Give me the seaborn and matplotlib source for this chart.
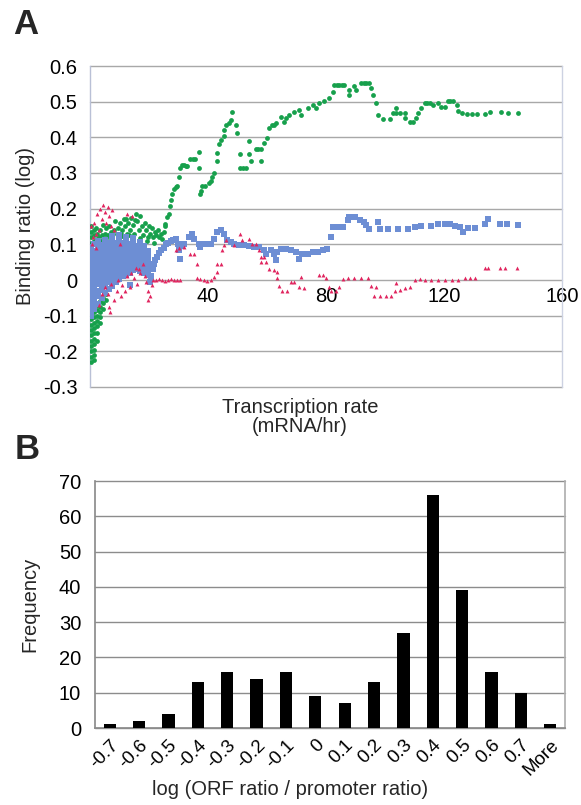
import matplotlib
matplotlib.use("Agg")
import matplotlib.pyplot as plt
import seaborn as sns
import pandas as pd

sns.set_theme(style="white")
plt.rcParams['font.family'] = ['Liberation Sans', 'DejaVu Sans']

# ---------------- Panel B data ----------------
bin_labels = ["-0.7", "-0.6", "-0.5", "-0.4", "-0.3", "-0.2", "-0.1", "0",
              "0.1", "0.2", "0.3", "0.4", "0.5", "0.6", "0.7", "More"]
frequency = [1, 2, 4, 13, 16, 14, 16, 9, 7, 13, 27, 66, 39, 16, 10, 1]
b_yticks = [0, 10, 20, 30, 40, 50, 60, 70]

# ---------------- Panel A ticks ----------------
a_yticks = [-0.3, -0.2, -0.1, 0.0, 0.1, 0.2, 0.3, 0.4, 0.5, 0.6]
a_ytick_labels = ["-0.3", "-0.2", "-0.1", "0", "0.1", "0.2", "0.3", "0.4", "0.5", "0.6"]
a_xticks = [40, 80, 120, 160]
a_xtick_labels = ["40", "80", "120", "160"]

# ---------------- Panel A series (transcription rate, binding ratio) ----------------
green_points = [
    (0.3, 0.15), (0.3, 0.135), (0.3, 0.12), (0.3, 0.105),
    (0.3, -0.11), (0.3, -0.125), (0.3, -0.14), (0.3, -0.155), (0.3, -0.17), (0.3, -0.185),
    (0.3, -0.2), (0.3, -0.215), (0.3, -0.23),
    (1.3, 0.14), (1.3, 0.125), (1.3, 0.11),
    (1.3, -0.09), (1.3, -0.105), (1.3, -0.12), (1.3, -0.135), (1.3, -0.15), (1.3, -0.165),
    (1.3, -0.18), (1.3, -0.195), (1.3, -0.21), (1.3, -0.225),
    (2.3, 0.13), (2.3, 0.115),
    (2.3, -0.07), (2.3, -0.085), (2.3, -0.1), (2.3, -0.115), (2.3, -0.13), (2.3, -0.15), (2.3, -0.17),
    (3.3, -0.06), (3.3, -0.075), (3.3, -0.09), (3.3, -0.105), (3.3, -0.12),
    (4.3, -0.05), (4.3, -0.065), (4.3, -0.08),
    (5.3, -0.04), (5.3, -0.055),
    (2.0, 0.145), (3.0, 0.12), (3.5, 0.14), (4.0, 0.125), (4.5, 0.155), (5.0, 0.13), (5.5, 0.145),
    (6.0, 0.125), (6.5, 0.15), (7.0, 0.135), (7.5, 0.125), (8.0, 0.14), (8.5, 0.165), (9.0, 0.13),
    (9.5, 0.145), (10.0, 0.16), (10.5, 0.13), (11.0, 0.14), (11.5, 0.17), (12.0, 0.15), (12.5, 0.13),
    (13.0, 0.16), (13.5, 0.14), (14.0, 0.175), (14.5, 0.155), (15.0, 0.13), (15.5, 0.185),
    (16.0, 0.165), (16.5, 0.14), (17.0, 0.18), (17.5, 0.15), (18.0, 0.125), (18.5, 0.16),
    (19.0, 0.14), (19.5, 0.12), (20.0, 0.15), (20.5, 0.13), (21.0, 0.145), (21.5, 0.12),
    (22.0, 0.135), (22.5, 0.125), (23.0, 0.14), (23.5, 0.12), (24.0, 0.13), (24.5, 0.115),
    (25.0, 0.135), (25.5, 0.15),
    (6.8, 0.118), (10.8, 0.122), (13.2, 0.125), (16.8, 0.118), (19.2, 0.108), (21.8, 0.105),
    (3.8, 0.108), (12.2, 0.172), (15.2, 0.168),
    (25.5, 0.158), (26.0, 0.176), (26.7, 0.185), (27.2, 0.208), (27.5, 0.225), (27.8, 0.24),
    (28.4, 0.255), (29.0, 0.262), (29.5, 0.264), (30.0, 0.29), (30.6, 0.315), (31.2, 0.322),
    (31.8, 0.322), (32.4, 0.32), (32.9, 0.319), (34.0, 0.34), (34.8, 0.34), (35.7, 0.34),
    (36.9, 0.359), (36.9, 0.313),
    (37.4, 0.24), (37.7, 0.25), (38.0, 0.264), (39.1, 0.264), (40.3, 0.273), (40.9, 0.278),
    (41.5, 0.29), (42.0, 0.30), (43.1, 0.333), (43.1, 0.356), (43.7, 0.38), (44.3, 0.393),
    (45.4, 0.403), (45.4, 0.42), (46.0, 0.435), (47.0, 0.44), (47.7, 0.449), (48.2, 0.472),
    (49.4, 0.435), (49.9, 0.412),
    (51.0, 0.352), (51.0, 0.315), (52.0, 0.315), (52.8, 0.315), (53.9, 0.352), (53.9, 0.389),
    (54.5, 0.333), (56.2, 0.366), (57.0, 0.366), (57.9, 0.366), (57.9, 0.335), (59.0, 0.384),
    (60.1, 0.398), (60.7, 0.426), (61.8, 0.435), (62.4, 0.435), (63.0, 0.44), (64.7, 0.458),
    (65.8, 0.444), (66.5, 0.455), (67.5, 0.463), (69.2, 0.47), (70.9, 0.477),
    (71.5, 0.463), (73.8, 0.481), (75.5, 0.492), (76.6, 0.481), (77.7, 0.495), (79.4, 0.502),
    (81.1, 0.511), (82.3, 0.528), (82.8, 0.546), (83.6, 0.546), (84.5, 0.548), (85.3, 0.548),
    (86.2, 0.546), (87.9, 0.532), (87.9, 0.518), (89.6, 0.544), (90.2, 0.532), (91.9, 0.551),
    (92.8, 0.551), (93.6, 0.551), (94.7, 0.551), (95.3, 0.537), (95.9, 0.518), (97.0, 0.495),
    (97.6, 0.463), (99.3, 0.452), (101.6, 0.452), (102.7, 0.468), (103.8, 0.483),
    (103.8, 0.468), (105.0, 0.468), (106.7, 0.468), (106.7, 0.454), (108.4, 0.443),
    (109.5, 0.443), (110.6, 0.454), (111.2, 0.468), (112.3, 0.481), (113.5, 0.495),
    (114.3, 0.495), (115.2, 0.495), (116.3, 0.491), (118.0, 0.495), (119.1, 0.486),
    (120.3, 0.486), (121.4, 0.502), (122.2, 0.502), (123.1, 0.502), (124.3, 0.491),
    (124.9, 0.474), (126.0, 0.468), (127.7, 0.466), (129.4, 0.466), (131.1, 0.466),
    (133.9, 0.465), (135.6, 0.472), (139.3, 0.472), (141.6, 0.469), (145.0, 0.469),
]

blue_points = [
    (0.3, -0.10), (0.3, -0.085), (0.3, -0.07), (0.3, -0.055), (0.3, -0.04), (0.3, -0.025),
    (0.3, -0.01), (0.3, 0.005), (0.3, 0.02), (0.3, 0.035), (0.3, 0.05), (0.3, 0.065),
    (0.3, 0.08), (0.3, 0.092),
    (1.5, -0.082), (1.5, -0.064), (1.5, -0.048), (1.5, -0.032), (1.5, -0.016), (1.5, 0.0),
    (1.5, 0.016), (1.5, 0.032), (1.5, 0.048), (1.5, 0.064), (1.5, 0.08), (1.5, 0.1),
    (2.7, -0.066), (2.7, -0.045), (2.7, -0.03), (2.7, -0.012), (2.7, 0.004), (2.7, 0.02),
    (2.7, 0.036), (2.7, 0.05), (2.7, 0.066), (2.7, 0.08), (2.7, 0.095), (2.7, 0.108),
    (3.9, -0.05), (3.9, -0.028), (3.9, -0.012), (3.9, 0.006), (3.9, 0.022), (3.9, 0.038),
    (3.9, 0.054), (3.9, 0.07), (3.9, 0.086), (3.9, 0.098),
    (5.1, -0.036), (5.1, -0.014), (5.1, 0.002), (5.1, 0.018), (5.1, 0.034), (5.1, 0.05),
    (5.1, 0.066), (5.1, 0.082), (5.1, 0.098), (5.1, 0.112),
    (6.3, -0.024), (6.3, -0.006), (6.3, 0.012), (6.3, 0.028), (6.3, 0.044), (6.3, 0.06),
    (6.3, 0.076), (6.3, 0.092), (6.3, 0.104),
    (7.5, -0.016), (7.5, 0.0), (7.5, 0.016), (7.5, 0.032), (7.5, 0.048), (7.5, 0.064),
    (7.5, 0.08), (7.5, 0.096), (7.5, 0.112), (7.5, 0.122),
    (8.7, -0.006), (8.7, 0.01), (8.7, 0.026), (8.7, 0.042), (8.7, 0.058), (8.7, 0.074),
    (8.7, 0.09), (8.7, 0.104),
    (9.9, 0.002), (9.9, 0.018), (9.9, 0.034), (9.9, 0.05), (9.9, 0.066), (9.9, 0.082),
    (9.9, 0.098), (9.9, 0.114), (9.9, 0.126),
    (11.1, 0.01), (11.1, 0.026), (11.1, 0.042), (11.1, 0.058), (11.1, 0.074), (11.1, 0.09),
    (11.1, 0.104),
    (12.3, 0.014), (12.3, 0.03), (12.3, 0.046), (12.3, 0.062), (12.3, 0.078), (12.3, 0.094),
    (12.3, 0.11), (12.3, 0.12),
    (13.5, 0.02), (13.5, 0.036), (13.5, 0.052), (13.5, 0.068), (13.5, 0.084), (13.5, 0.1),
    (14.7, 0.028), (14.7, 0.044), (14.7, 0.06), (14.7, 0.076), (14.7, 0.092), (14.7, 0.108),
    (14.7, 0.118),
    (15.9, 0.032), (15.9, 0.048), (15.9, 0.064), (15.9, 0.08), (15.9, 0.096),
    (17.1, 0.026), (17.1, 0.042), (17.1, 0.058), (17.1, 0.074), (17.1, 0.09), (17.1, 0.106),
    (18.3, 0.02), (18.3, 0.036), (18.3, 0.052), (18.3, 0.068), (18.3, 0.084), (18.3, 0.094),
    (19.5, 0.014), (19.5, 0.03), (19.5, 0.048), (19.5, 0.064), (19.5, 0.08),
    (13.6, -0.014), (20.4, -0.005), (20.8, 0.01), (21.2, 0.03), (21.6, 0.045), (22.2, 0.055),
    (22.8, 0.065), (23.5, 0.075), (24.2, 0.083), (25.0, 0.09), (25.8, 0.1), (26.6, 0.105),
    (27.4, 0.11), (28.2, 0.112), (29.0, 0.116), (29.8, 0.1), (30.3, 0.083), (30.6, 0.06),
    (31.2, 0.095), (31.8, 0.102), (33.5, 0.12), (34.6, 0.13), (35.2, 0.116), (36.9, 0.102),
    (37.4, 0.093), (39.1, 0.102), (40.9, 0.102), (42.0, 0.116), (43.1, 0.134), (44.3, 0.139),
    (45.4, 0.13), (46.5, 0.111), (47.7, 0.106), (48.8, 0.102), (50.5, 0.097), (52.2, 0.097),
    (53.9, 0.094), (55.6, 0.093), (57.3, 0.093), (59.0, 0.083), (59.6, 0.074), (61.3, 0.083),
    (62.4, 0.074), (63.0, 0.057), (63.5, 0.079), (64.7, 0.088), (66.4, 0.088), (68.1, 0.083),
    (69.8, 0.079), (70.9, 0.06), (72.0, 0.074), (73.8, 0.074), (75.5, 0.079), (77.2, 0.079),
    (78.9, 0.083), (80.5, 0.088), (81.7, 0.12), (82.3, 0.148), (83.9, 0.148), (85.7, 0.148),
    (87.4, 0.167), (87.9, 0.176), (89.9, 0.178), (91.4, 0.169), (93.0, 0.162), (93.6, 0.153),
    (94.7, 0.144), (97.6, 0.164), (98.2, 0.144), (101.0, 0.144), (104.4, 0.144),
    (107.8, 0.144), (110.0, 0.148), (112.3, 0.151), (115.7, 0.151), (118.0, 0.157),
    (120.3, 0.157), (122.0, 0.156), (123.7, 0.151), (125.4, 0.148), (126.5, 0.134),
    (128.2, 0.145), (130.5, 0.145), (133.9, 0.157), (135.0, 0.171), (139.0, 0.157),
    (141.3, 0.157), (145.0, 0.155),
]

red_points = [
    (0.5, 0.15), (1.0, 0.12), (1.5, 0.16), (2.0, 0.13), (2.5, 0.185), (3.0, 0.14), (3.5, 0.2),
    (4.0, 0.17), (4.5, 0.21), (5.0, 0.19), (5.5, 0.16), (6.0, 0.205), (6.5, 0.18), (7.0, 0.15),
    (7.5, 0.195), (8.0, 0.14), (12.6, 0.185), (14.3, 0.18), (10.0, 0.1), (0.8, 0.1), (2.2, 0.09),
    (5.0, -0.02), (6.0, -0.04), (6.3, -0.075), (6.8, -0.09), (7.0, -0.01), (8.0, -0.055),
    (9.0, -0.03), (9.5, 0.0), (10.5, -0.045), (11.0, -0.015), (12.0, -0.03), (12.5, 0.01),
    (13.5, -0.02), (14.0, 0.02), (15.0, 0.005), (15.5, 0.035), (16.0, -0.01), (16.5, 0.03),
    (17.0, 0.02), (18.0, 0.045), (18.5, 0.01), (19.0, -0.005), (19.7, -0.03), (19.7, -0.055),
    (20.5, -0.045), (21.0, -0.015), (3.0, -0.07), (4.0, -0.04),
    (21.5, 0.0), (22.5, 0.0), (23.5, 0.002), (24.5, 0.0), (25.5, -0.002), (26.5, 0.0),
    (27.5, 0.003), (28.5, 0.0), (29.5, 0.0), (30.5, 0.0), (29.0, 0.083), (30.0, 0.09),
    (31.8, 0.093), (34.0, 0.074), (35.2, 0.074), (36.3, 0.046), (36.3, 0.005), (37.4, 0.002),
    (38.6, 0.0), (39.7, -0.002), (40.9, 0.0), (42.0, 0.009), (43.1, 0.023), (43.1, 0.046),
    (44.3, 0.046), (44.8, 0.083), (45.4, 0.097), (46.0, 0.111), (48.8, 0.097), (51.0, 0.13),
    (51.6, 0.111), (53.9, 0.116), (55.0, 0.102), (56.2, 0.102), (57.3, 0.083), (57.9, 0.065),
    (59.0, 0.065), (57.9, 0.051), (59.6, 0.051), (60.7, 0.032), (62.4, 0.028), (63.5, 0.023),
    (63.5, 0.005), (64.1, -0.016), (65.2, -0.031), (66.9, -0.032), (68.1, -0.005),
    (69.2, -0.005), (70.9, -0.019), (71.5, 0.009), (72.6, -0.023), (77.7, 0.014),
    (78.9, 0.014), (80.0, 0.005), (81.1, -0.019), (81.7, -0.032), (83.4, -0.032),
    (84.5, -0.019), (85.7, 0.002), (87.4, 0.007), (89.6, 0.007), (91.9, 0.007), (94.1, 0.007),
    (95.3, -0.017), (97.0, -0.019), (96.4, -0.046), (98.2, -0.046), (100.4, -0.046),
    (102.1, -0.046), (103.3, -0.032), (103.8, -0.009), (105.0, -0.028), (106.7, -0.023),
    (108.4, -0.019), (110.0, 0.0), (111.8, 0.002), (113.5, 0.0), (115.7, 0.0), (118.0, 0.0),
    (120.3, 0.0), (122.6, 0.0), (124.9, 0.0), (127.1, 0.005), (128.8, 0.005), (130.5, 0.005),
    (133.9, 0.035), (135.0, 0.035), (139.0, 0.035), (140.7, 0.035), (144.7, 0.035),
]

GREEN = "#17a04c"
BLUE = "#6d8ed4"
RED = "#e0245e"
GRID_A = "#a8a8a8"
GRID_B = "#8c8c8c"

W, H = 581, 805
fig = plt.figure(figsize=(W / 100, H / 100), dpi=100)
fig.patch.set_facecolor("white")

# ================= Panel A =================
axA = fig.add_axes([90 / W, 1 - 387 / H, (562 - 90) / W, (387 - 66) / H])
axA.set_facecolor("white")

df_g = pd.DataFrame(green_points, columns=["rate", "ratio"])
df_b = pd.DataFrame(blue_points, columns=["rate", "ratio"])
df_r = pd.DataFrame(red_points, columns=["rate", "ratio"])

sns.scatterplot(data=df_g, x="rate", y="ratio", ax=axA, color=GREEN, marker="o",
                s=12, linewidth=0, legend=False, zorder=3)
sns.scatterplot(data=df_b, x="rate", y="ratio", ax=axA, color=BLUE, marker="s",
                s=17, linewidth=0, legend=False, zorder=4)
sns.scatterplot(data=df_r, x="rate", y="ratio", ax=axA, color=RED, marker="^",
                s=8, linewidth=0, legend=False, zorder=5)

axA.set_xlim(0, 160)
axA.set_ylim(-0.3, 0.6)
axA.set_yticks(a_yticks)
axA.set_yticklabels(a_ytick_labels)
axA.set_xticks(a_xticks)
axA.set_xticklabels(a_xtick_labels)
axA.yaxis.grid(True, color=GRID_A, lw=1.0)
axA.xaxis.grid(False)
for gl in axA.get_ygridlines():
    gl.set_clip_on(False)
axA.set_axisbelow(True)
for side in ["top", "bottom"]:
    axA.spines[side].set_visible(False)
axA.spines["bottom"].set_position(("data", 0))
axA.spines["left"].set_color("#b9c0d6")
axA.spines["left"].set_linewidth(1.0)
axA.spines["right"].set_color("#cdd2e2")
axA.spines["right"].set_linewidth(1.0)
axA.tick_params(axis="y", length=0, pad=9, labelsize=14.5, colors="black")
axA.tick_params(axis="x", length=0, pad=5, labelsize=14.5, colors="black")
axA.set_xlabel("")
axA.set_ylabel("")

fig.text(26 / W, 1 - 226 / H, "Binding ratio (log)", rotation=90, ha="center", va="center",
         fontsize=14.5)
fig.text(300 / W, 1 - 417 / H, "Transcription rate\n(mRNA/hr)", ha="center", va="center",
         fontsize=14.5, linespacing=1.0)
fig.text(13 / W, 1 - 24 / H, "A", ha="left", va="center", fontsize=25, fontweight="bold")

# ================= Panel B =================
axB = fig.add_axes([95 / W, 1 - 728 / H, (565 - 95) / W, (728 - 481) / H])
axB.set_facecolor("white")
df_hist = pd.DataFrame({"bin": bin_labels, "count": frequency})
sns.barplot(data=df_hist, x="bin", y="count", order=bin_labels, color="black",
            saturation=1, width=0.42, linewidth=0, ax=axB, zorder=3)
axB.set_xlim(-0.5, len(bin_labels) - 0.5)
axB.set_ylim(0, 70)
axB.set_yticks(b_yticks)
axB.yaxis.grid(True, color=GRID_B, lw=1.0)
for gl in axB.get_ygridlines():
    gl.set_clip_on(False)
axB.set_axisbelow(True)
axB.spines["top"].set_visible(False)
axB.spines["left"].set_color(GRID_B)
axB.spines["bottom"].set_color(GRID_B)
axB.spines["right"].set_color("#b0b0b0")
axB.set_xticks(range(len(bin_labels)))
axB.set_xticklabels(bin_labels)
axB.set_xticks([i - 0.5 for i in range(len(bin_labels) + 1)], minor=True)
axB.tick_params(axis="x", which="major", length=0, pad=6, labelsize=13.5, colors="black")
axB.tick_params(axis="x", which="minor", length=5, width=1, color=GRID_B, direction="out")
axB.tick_params(axis="y", length=4, width=1, color=GRID_B, direction="out", pad=6,
                labelsize=14.5, colors="black")
axB.tick_params(axis="y", color=GRID_B)
for lab in axB.get_xticklabels():
    lab.set_rotation(45)
    lab.set_ha("right")
    lab.set_va("top")
    lab.set_rotation_mode("anchor")
axB.set_xlabel("")
axB.set_ylabel("")

fig.text(30 / W, 1 - 604 / H, "Frequency", rotation=90, ha="center", va="center",
         fontsize=14.5)
fig.text(290 / W, 1 - 789 / H, "log (ORF ratio / promoter ratio)", ha="center", va="center",
         fontsize=14.5)
fig.text(15 / W, 1 - 449 / H, "B", ha="left", va="center", fontsize=25, fontweight="bold")

fig.savefig("out.png", dpi=100, facecolor="white")
